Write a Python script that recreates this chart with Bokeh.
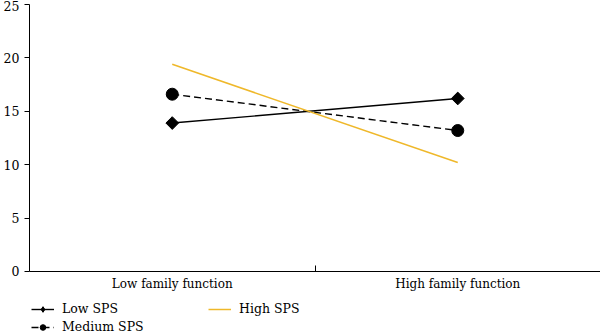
import math
from bokeh.plotting import figure
from bokeh.models import (Range1d, FixedTicker, LinearAxis, Legend, LegendItem)
from bokeh.embed import file_html
from bokeh.resources import INLINE

# Group means by family function level
categories = ["Low family function", "High family function"]
low_sps = [13.9, 16.2]
medium_sps = [16.6, 13.2]
high_sps = [19.4, 10.2]
y_ticks = [0, 5, 10, 15, 20, 25]

FONT = "DejaVu Serif"
YELLOW = "#EFB82A"

# categories sit in the middle of unit-wide bands
xs = [i + 0.5 for i in range(len(categories))]
bounds = list(range(len(categories) + 1))

# the frame reaches the bottom edge; the area below y=0 holds the
# category labels and the legend
p = figure(width=600, height=334, output_backend="svg", toolbar_location=None,
           x_range=Range1d(0, len(categories)), y_range=Range1d(-5.9, 25),
           x_axis_location=None, y_axis_location=None,
           min_border_top=4, min_border_right=0, min_border_left=0, min_border_bottom=0)
p.grid.visible = False
p.outline_line_color = None
p.background_fill_color = "white"
p.border_fill_color = "white"

# y axis, drawn from 0 to 25 only
yax = LinearAxis(ticker=FixedTicker(ticks=y_ticks, minor_ticks=[]), bounds=(0, 25))
yax.major_tick_in = 0
yax.major_tick_out = 5
yax.major_label_standoff = 5
yax.axis_line_color = "black"
yax.major_tick_line_color = "black"
yax.major_label_text_font = FONT
yax.major_label_text_font_size = "12.5px"
yax.major_label_text_color = "black"
p.add_layout(yax, "left")

# x axis pinned at y=0: labels at band centres, short inward ticks at band edges
xax = LinearAxis(ticker=FixedTicker(ticks=xs, minor_ticks=bounds), fixed_location=0)
xax.major_label_overrides = {x: c for x, c in zip(xs, categories)}
xax.major_tick_in = 0
xax.major_tick_out = 0
xax.minor_tick_in = 6
xax.minor_tick_out = 0
xax.minor_tick_line_color = "black"
xax.axis_line_color = "black"
xax.major_label_standoff = 6
xax.major_label_text_font = FONT
xax.major_label_text_font_size = "12px"
xax.major_label_text_color = "black"
p.add_layout(xax, "below")

l1 = p.line(xs, low_sps, line_color="black", line_width=1.4)
# small key markers (used by the legend), covered by the larger point markers
k1 = p.scatter(xs, low_sps, marker="diamond", size=9, fill_color="black", line_color="black")
p.scatter(xs, low_sps, marker="square", size=9, angle=math.pi / 4,
          fill_color="black", line_color="black")
l2 = p.line(xs, medium_sps, line_color="black", line_width=1.4, line_dash="7 4")
k2 = p.scatter(xs, medium_sps, marker="circle", size=6, fill_color="black", line_color="black")
p.scatter(xs, medium_sps, marker="circle", size=12, fill_color="black", line_color="black")
l3 = p.line(xs, high_sps, line_color=YELLOW, line_width=1.5)

# two-column legend at the bottom, filled row by row
legend = Legend(items=[
    LegendItem(label="Low SPS", renderers=[l1, k1]),
    LegendItem(label="High SPS", renderers=[l3]),
    LegendItem(label="Medium SPS", renderers=[l2, k2]),
], orientation="horizontal", ncols=2)
legend.location = (2, 0)
legend.margin = 0
legend.padding = 0
legend.border_line_color = None
legend.background_fill_alpha = 0
legend.glyph_width = 23
legend.glyph_height = 14
legend.label_height = 14
legend.label_width = 143
legend.label_standoff = 8
legend.spacing = 3
legend.label_text_font = FONT
legend.label_text_font_size = "12.5px"
legend.label_text_color = "black"
p.add_layout(legend, "center")

open("out.html", "w").write(file_html(p, INLINE))
